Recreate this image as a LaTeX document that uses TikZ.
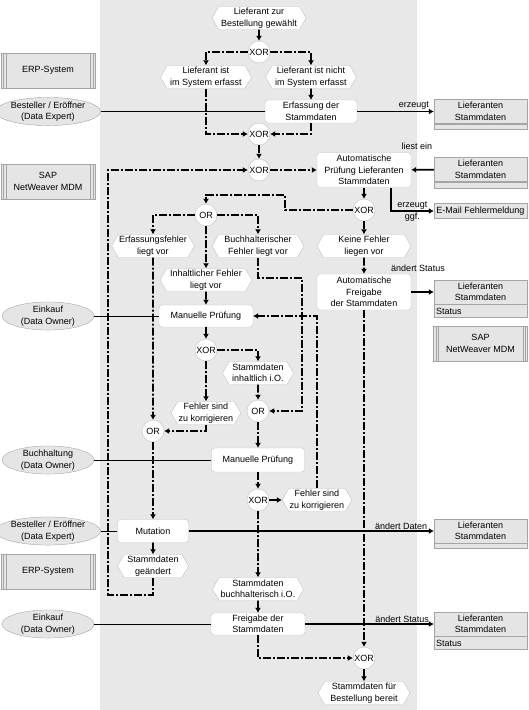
\documentclass[tikz,border=0pt]{standalone}
\usepackage{fontspec}
\setmainfont{Liberation Sans}
\usepackage{xcolor}
\usepackage{tikz}
\usetikzlibrary{positioning}
\usetikzlibrary{arrows.meta,shapes}
\usetikzlibrary{calc}
\definecolor{bggray}{RGB}{232,232,232}
\definecolor{boxgray}{RGB}{229,229,229}
\definecolor{linegray}{RGB}{165,165,165}
\definecolor{lightline}{RGB}{195,195,195}
\newcommand{\epcfont}{\fontsize{9}{11.5}\selectfont}
\tikzstyle{event}=[signal, signal to=west and east, signal pointer angle=120, draw=lightline, fill=white, minimum height=23pt, inner sep=1pt, align=center, font=\epcfont]
\tikzstyle{func}=[rectangle, rounded corners=3pt, draw=lightline, fill=white, inner sep=1pt, align=center, font=\epcfont]
\tikzstyle{conn}=[circle, draw=lightline, fill=white, minimum size=22pt, inner sep=0pt, font=\epcfont]
\tikzstyle{orgunit}=[ellipse, draw=linegray, fill=boxgray, minimum width=92pt, minimum height=27pt, inner sep=0pt, align=center, font=\epcfont]
\tikzstyle{sysbox}=[rectangle, draw=linegray, fill=boxgray, minimum width=94pt, minimum height=35pt, inner sep=0pt, align=center, font=\epcfont]
\tikzstyle{datatop}=[rectangle, draw=linegray, fill=boxgray, minimum width=93pt, minimum height=24pt, inner sep=0pt, align=center, font=\epcfont]
\tikzstyle{datastrip}=[rectangle, draw=linegray, fill=boxgray, minimum width=93pt, inner sep=0pt, anchor=north west, font=\epcfont]
\tikzstyle{flow}=[draw, line width=1.8pt, dash pattern=on 8pt off 2pt on 2pt off 2pt, -{Latex[length=5pt,width=6pt]}]
\tikzstyle{orglink}=[draw, line width=0.8pt]
\tikzstyle{datalink}=[draw, line width=1.6pt, -{Latex[length=5pt,width=6pt]}]
\tikzstyle{lbl}=[font=\epcfont, inner sep=1pt]

\begin{document}
\begin{tikzpicture}[x=1pt, y=-1pt]

  \useasboundingbox (0,0) rectangle (529,710);
  \fill[bggray] (100,0) rectangle (417,710);

  % ereignisse
  \foreach \x/\y/\w/\name/\label in {259/18/94/e1/{Lieferant zur\\Bestellung gewählt}, 206/77/91/e2/{Lieferant ist\\im System erfasst}, 311/77/91/e3/{Lieferant ist nicht\\im System erfasst}}
    \node[event, minimum width=\w pt] (\name) at (\x,\y) {\label};

  \foreach \x/\y/\w/\name/\label in {153/246/80/e4/{Erfassungsfehler\\liegt vor}, 258/246/92/e5/{Buchhalterischer\\Fehler liegt vor}, 364/246/94/e6/{Keine Fehler\\liegen vor}, 206/280/92/e7/{Inhaltlicher Fehler\\liegt vor}}
    \node[event, minimum width=\w pt] (\name) at (\x,\y) {\label};

  \foreach \x/\y/\w/\name/\label in {258/373/71/e8/{Stammdaten\\inhaltlich i.O.}, 206/413/69/e9/{Fehler sind\\zu korrigieren}, 317/500/69/e10/{Fehler sind\\zu korrigieren}, 258/589/91/e11/{Stammdaten\\buchhalterisch i.O.}, 153/566/71/e12/{Stammdaten\\geändert}, 364/693/92/e13/{Stammdaten für\\Bestellung bereit}}
    \node[event, minimum width=\w pt] (\name) at (\x,\y) {\label};

  % funktionen
  \foreach \x/\y/\w/\h/\name/\label in {311/111.5/92/23/f1/{Erfassung der\\Stammdaten}, 364/170/94/35/f2/{Automatische\\Prüfung Lieferanten\\Stammdaten}, 206/316/94/22/f3/{Manuelle Prüfung}, 364/292/94/36/f4/{Automatische\\Freigabe\\der Stammdaten}}
    \node[func, minimum width=\w pt, minimum height=\h pt] (\name) at (\x,\y) {\label};

  \foreach \x/\y/\w/\h/\name/\label in {258/460/93/24/f5/{Manuelle Prüfung}, 153/531/71/23/f6/{Mutation}, 258/624/94/22/f7/{Freigabe der\\Stammdaten}}
    \node[func, minimum width=\w pt, minimum height=\h pt] (\name) at (\x,\y) {\label};

  % konnektoren
  \foreach \x/\y/\name/\label in {259/52/x1/XOR, 259/134/x2/XOR, 259/170/x3/XOR, 364/210/x4/XOR, 206/215/o1/OR, 206/350/x5/XOR, 153/431/o2/OR, 258/411/o3/OR, 258/500/x6/XOR, 364/658/x7/XOR}
    \node[conn] (\name) at (\x,\y) {\label};

  % organisation und systeme
  \foreach \y/\name/\label in {111.5/u1/{Besteller / Eröffner\\(Data Expert)}, 316/u2/{Einkauf\\(Data Owner)}, 460/u3/{Buchhaltung\\(Data Owner)}, 531/u4/{Besteller / Eröffner\\(Data Expert)}, 624/u5/{Einkauf\\(Data Owner)}}
    \node[orgunit] (\name) at (48,\y) {\label};

  \foreach \x/\y/\name/\label in {48/70.5/s1/{ERP-System}, 48/181.5/s2/{SAP\\NetWeaver MDM}, 480.5/343.5/s3/{SAP\\NetWeaver MDM}, 48/571.5/s4/{ERP-System}}
    \node[sysbox] (\name) at (\x,\y) {\label};

  \foreach \name in {s1, s2, s3, s4} {
    \draw[linegray] ([xshift=2.5pt]\name.north west) -- ([xshift=2.5pt]\name.south west);
    \draw[linegray] ([xshift=5pt]\name.north west) -- ([xshift=5pt]\name.south west);
    \draw[linegray] ([xshift=-2.5pt]\name.north east) -- ([xshift=-2.5pt]\name.south east);
    \draw[linegray] ([xshift=-5pt]\name.north east) -- ([xshift=-5pt]\name.south east);
  }

  % datenobjekte
  \foreach \y/\s/\name in {111.5/5/d1, 169.5/6/d2, 531/5/d4} {
    \node[datatop] (\name) at (480.5,\y) {Lieferanten\\Stammdaten};
    \node[datastrip, minimum height=\s pt] (\name s) at (\name.south west) {};
  }
  \foreach \y/\name in {292/d3, 624/d5} {
    \node[datatop] (\name) at (480.5,\y) {Lieferanten\\Stammdaten};
    \node[datastrip, minimum height=13pt, inner xsep=2pt, text width=89pt, align=left] (\name s) at (\name.south west) {Status};
  }
  \node[datatop, minimum height=15pt] (mail) at (480.5,211) {E-Mail Fehlermeldung};

  % kontrollfluss
  \foreach \source/\dest in {e1/x1, e3/f1, x2/x3, x3/f2, f2/x4, x4/e6, e6/f4, f4/x7, o1/e7, e7/f3, f3/x5, x5/e9, e4/o2, e8/o3, o3/f5, f5/x6, x6/e10, x6/e11, e11/f7, x7/e13, o2/f6, f6/e12}
    \path[flow] (\source) -- (\dest);

  \foreach \source/\dest in {x1/e2, x1/e3, o1/e4, o1/e5, x5/e8}
    \path[flow] (\source) -| (\dest);

  \foreach \source/\dest in {e2/x2, f1/x2, e9/o2, e10/f3, f7/x7}
    \path[flow] (\source) |- (\dest);

  \coordinate (c1) at (285,195);
  \coordinate (c2) at (302,278);
  \coordinate (c3) at (108,595);
  \path[flow] (x4) -| (c1) -| (o1);
  \path[flow] (e5) |- (c2) |- (o3);
  \path[flow, line width=2.4pt] (e12) |- (c3) |- (x3);

  % organisatorische zuordnung
  \foreach \source/\dest in {u1/f1, u2/f3, u3/f5, u4/f6, u5/f7}
    \path[orglink] (\source) -- (\dest);

  % datenfluss
  \path[datalink] (f1) -- node[lbl, pos=1, anchor=south east, xshift=-3pt] {erzeugt} (d1);
  \path[datalink] (d2) -- (f2);
  \node[lbl] (l1) at (417,146) {liest ein};
  \path[datalink] ([xshift=27pt]f2.south) |- node[lbl, pos=0.75, above] {erzeugt} node[lbl, pos=0.75, below] {ggf.} (mail);
  \path[datalink] (f4) -- (d3);
  \node[lbl] (l2) at (418,268) {ändert Status};
  \path[datalink, line width=1.2pt] (f6) -- node[lbl, pos=1, anchor=south east, xshift=-5pt] {ändert Daten} (d4);
  \path[datalink] (f7) -- node[lbl, pos=1, anchor=south east, xshift=-3pt] {ändert Status} (d5);

\end{tikzpicture}
\end{document}
